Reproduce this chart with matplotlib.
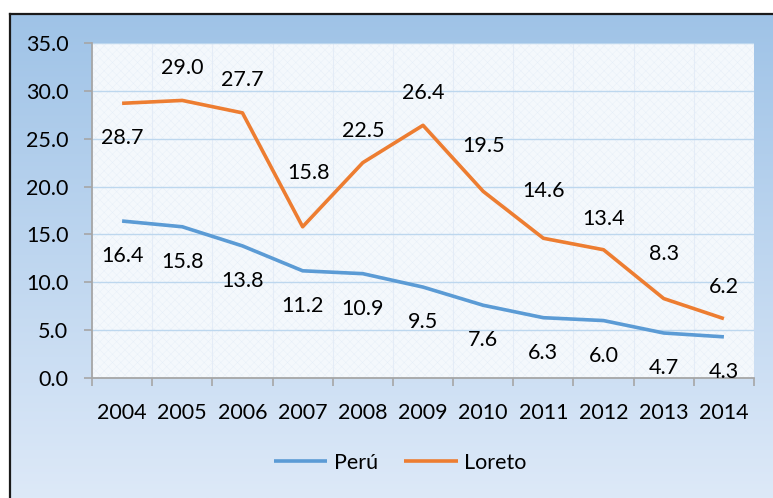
import matplotlib.pyplot as plt
from matplotlib.lines import Line2D
from matplotlib.patches import Rectangle
import numpy as np

# data
years = ['2004', '2005', '2006', '2007', '2008', '2009', '2010', '2011', '2012', '2013', '2014']
peru = [16.4, 15.8, 13.8, 11.2, 10.9, 9.5, 7.6, 6.3, 6.0, 4.7, 4.3]
loreto = [28.7, 29.0, 27.7, 15.8, 22.5, 26.4, 19.5, 14.6, 13.4, 8.3, 6.2]

# label offsets in pixels (dx, dy)
peru_off = [(0, -35)] * 11
loreto_off = [(0, -35), (0, 32), (0, 33), (6, 54), (0, 32), (0, 32),
              (0, 45), (0, 47), (0, 31), (0, 45), (0, 32)]

plt.rcParams['font.family'] = ['Lato', 'DejaVu Sans']
plt.rcParams['hatch.linewidth'] = 0.3
fs = 15.5

fig = plt.figure(figsize=(7.73, 4.98), dpi=100)

# gradient background of the chart area
bg = fig.add_axes([10 / 773, 0, 1 - 10 / 773, 1 - 14 / 498], zorder=0)
c1 = np.array([0x9f, 0xc3, 0xe7]) / 255
c2 = np.array([0xdd, 0xe9, 0xf8]) / 255
t = np.linspace(0, 1, 256)[:, None]
grad = (c1 * (1 - t) + c2 * t)[:, None, :]
bg.imshow(grad, aspect='auto', extent=[0, 1, 0, 1])
bg.set_axis_off()

# border (top + left only, the rest is cropped)
fig.add_artist(Line2D([10 / 773, 10 / 773], [0, 1 - 14 / 498], color='#1a1a1a', lw=1.6,
                      transform=fig.transFigure))
fig.add_artist(Line2D([10 / 773, 1], [1 - 14 / 498, 1 - 14 / 498], color='#1a1a1a', lw=1.6,
                      transform=fig.transFigure))

ax = fig.add_axes([92 / 773, 120 / 498, 662 / 773, 335 / 498], zorder=1)
ax.set_facecolor('#f4f8fc')
ax.add_patch(Rectangle((0, 0), 1, 1, transform=ax.transAxes, facecolor='none',
                       edgecolor='#e6eef8', hatch='xxxx', lw=0, zorder=0))

x = np.arange(len(years))
ax.plot(x, peru, color='#5b9bd5', lw=2.6, solid_capstyle='butt', label='Perú', zorder=3)
ax.plot(x, loreto, color='#ed7d31', lw=2.6, solid_capstyle='butt', label='Loreto', zorder=3)

for i in range(len(years)):
    ax.annotate('%.1f' % peru[i], (x[i], peru[i]), xytext=peru_off[i],
                textcoords='offset pixels', ha='center', va='center', fontsize=fs,
                color='black', zorder=4)
    ax.annotate('%.1f' % loreto[i], (x[i], loreto[i]), xytext=loreto_off[i],
                textcoords='offset pixels', ha='center', va='center', fontsize=fs,
                color='black', zorder=4)

ax.set_xlim(-0.5, len(years) - 0.5)
ax.set_ylim(0, 35)
ax.set_yticks(np.arange(0, 36, 5))
ax.set_yticklabels(['%.1f' % v for v in np.arange(0, 36, 5)], fontsize=fs)
ax.set_xticks(x)
ax.set_xticklabels(years, fontsize=fs)
ax.set_xticks(np.arange(-0.5, len(years), 1), minor=True)

ax.tick_params(axis='x', which='major', length=0, pad=18)
ax.tick_params(axis='x', which='minor', length=6, width=1.2, color='#a6a6a6', direction='out')
ax.tick_params(axis='y', length=6, width=1.2, color='#a6a6a6', pad=11)

ax.grid(axis='y', color='#bdd7ee', lw=1.0, zorder=1)
ax.grid(axis='x', which='minor', color='#e4ecf7', lw=0.8, zorder=1)
ax.set_axisbelow(True)

for s in ['top', 'right']:
    ax.spines[s].set_visible(False)
for s in ['left', 'bottom']:
    ax.spines[s].set_color('#a6a6a6')
    ax.spines[s].set_linewidth(1.3)

leg = fig.legend(loc='center', bbox_to_anchor=(400 / 773, 1 - 463 / 498), ncol=2,
                 frameon=False, fontsize=fs, handlelength=2.5, handletextpad=0.3,
                 columnspacing=1.2)

fig.savefig('out.png', dpi=100)
